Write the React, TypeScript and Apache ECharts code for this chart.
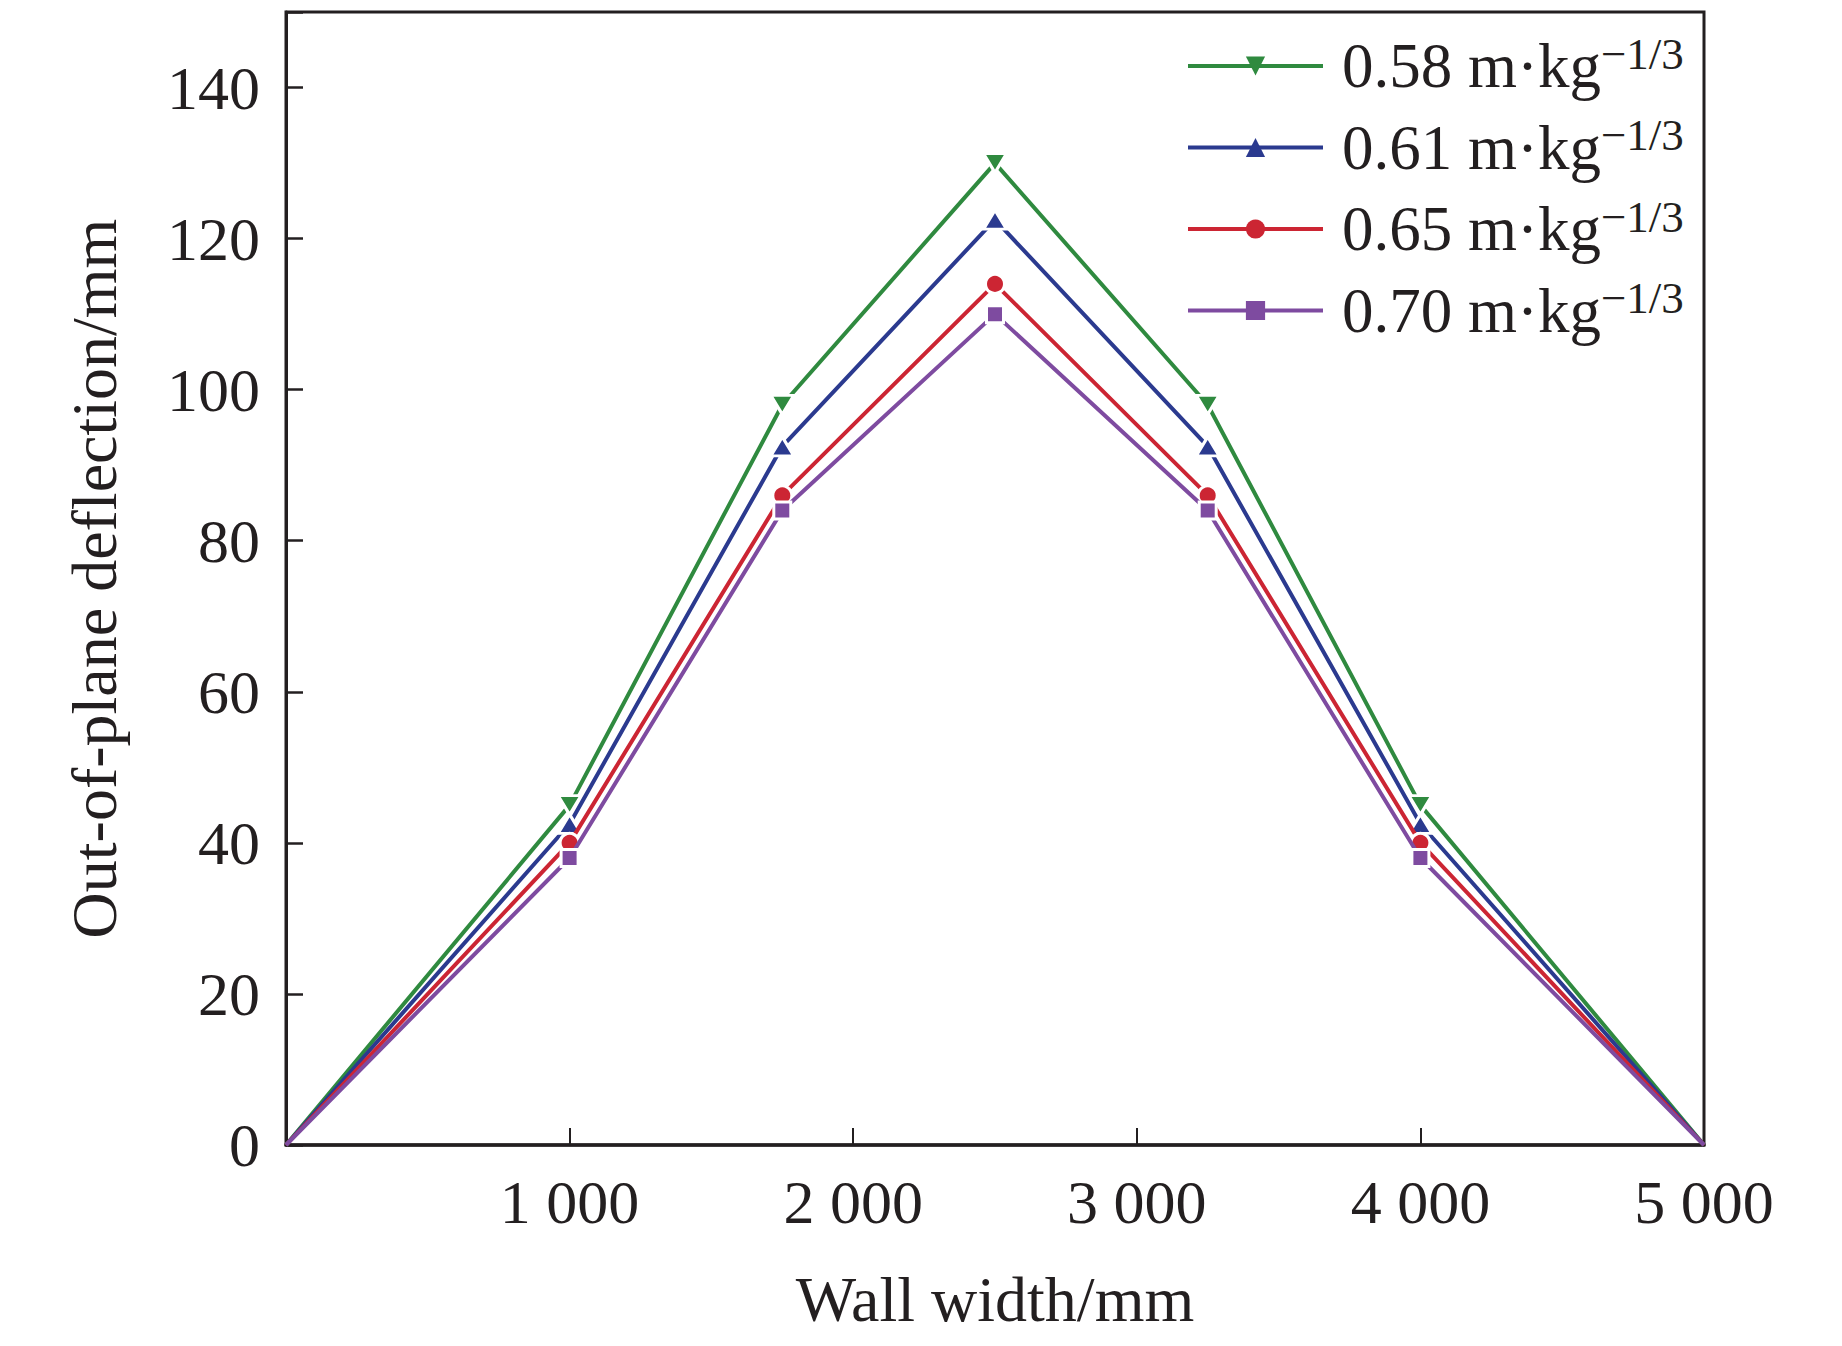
import React, { useEffect, useRef } from "react";
import * as echarts from "echarts";

const xValues = [0, 1000, 1750, 2500, 3250, 4000, 5000];
const seriesNames = ["0.58", "0.61", "0.65", "0.70"];
const s058 = [0, 45, 98, 130, 98, 45, 0];
const s061 = [0, 42.5, 92.5, 122.5, 92.5, 42.5, 0];
const s065 = [0, 40, 86, 114, 86, 40, 0];
const s070 = [0, 38, 84, 110, 84, 38, 0];
const xTicks = [1000, 2000, 3000, 4000, 5000];
const yTicks = [0, 20, 40, 60, 80, 100, 120, 140];

const FONT = '"Liberation Serif", "Times New Roman", serif';
const colors = ["#2f8a3f", "#2b3a8f", "#cc2533", "#7e4ba0"];
const symbols = ["triangle", "triangle", "circle", "rect"];
const rotates = [180, 0, 0, 0];
const sizes: any[] = [[23, 19], [23, 19], 19, 17];

export default function App() {
  const ref = useRef<HTMLDivElement>(null);
  useEffect(() => {
    document.body.style.margin = "0";
    const chart = echarts.init(ref.current!, null, { renderer: "svg" });
    const all = [s058, s061, s065, s070];
    const series = all.map((vals, i) => ({
      name: seriesNames[i],
      type: "line",
      symbol: symbols[i],
      symbolRotate: rotates[i],
      symbolSize: sizes[i],
      lineStyle: { color: colors[i], width: 4 },
      itemStyle: { color: colors[i], borderColor: "#ffffff", borderWidth: 3 },
      data: vals.map((v, j) => {
        const d: any = { value: [xValues[j], v] };
        if (j === 0 || j === vals.length - 1) d.symbol = "none";
        return d;
      }),
      z: 2 + i,
    }));
    chart.setOption({
      animation: false,
      backgroundColor: "#ffffff",
      grid: {
        left: 286,
        right: 138,
        top: 12,
        bottom: 201,
        show: true,
        borderColor: "#231f20",
        borderWidth: 3,
        backgroundColor: "transparent",
      },
      legend: {
        orient: "vertical",
        left: 1181,
        top: 26,
        itemWidth: 135,
        itemHeight: 24,
        itemGap: 15,
        itemStyle: { borderWidth: 0 },
        lineStyle: { width: 4 },
        formatter: (name: string) => `{a|${name} m·kg}{s|−1/3}`,
        textStyle: {
          fontFamily: FONT,
          color: "#231f20",
          rich: {
            a: { fontFamily: FONT, fontSize: 63, lineHeight: 70, color: "#231f20", padding: [0, 0, 0, 14] },
            s: { fontFamily: FONT, fontSize: 45, lineHeight: 42, verticalAlign: "top", color: "#231f20" },
          },
        },
        data: seriesNames,
      },
      xAxis: {
        type: "value",
        min: 0,
        max: 5000,
        interval: 1000,
        name: "Wall width/mm",
        nameLocation: "middle",
        nameGap: 122,
        nameTextStyle: { fontFamily: FONT, fontSize: 64, color: "#231f20" },
        axisLine: { show: true, onZero: false, lineStyle: { color: "#231f20", width: 3.5 } },
        axisTick: { show: true, inside: true, length: 17, lineStyle: { color: "#231f20", width: 2 } },
        splitLine: { show: false },
        axisLabel: {
          fontFamily: FONT,
          fontSize: 62,
          color: "#231f20",
          margin: 26,
          formatter: (v: number) =>
            xTicks.includes(v) ? String(v).replace(/\B(?=(\d{3})+(?!\d))/g, " ") : "",
        },
      },
      yAxis: {
        type: "value",
        min: 0,
        max: 150,
        interval: 20,
        name: "Out-of-plane deflection/mm",
        nameLocation: "middle",
        nameGap: 160,
        nameTextStyle: { fontFamily: FONT, fontSize: 64, color: "#231f20" },
        axisLine: { show: true, onZero: false, lineStyle: { color: "#231f20", width: 3 } },
        axisTick: { show: true, inside: true, length: 17, lineStyle: { color: "#231f20", width: 2.5 } },
        splitLine: { show: false },
        axisLabel: {
          fontFamily: FONT,
          fontSize: 62,
          color: "#231f20",
          margin: 26,
          formatter: (v: number) => (yTicks.includes(v) ? String(v) : ""),
        },
      },
      series,
    });
    return () => chart.dispose();
  }, []);
  return <div ref={ref} style={{ width: 1842, height: 1346 }} />;
}
